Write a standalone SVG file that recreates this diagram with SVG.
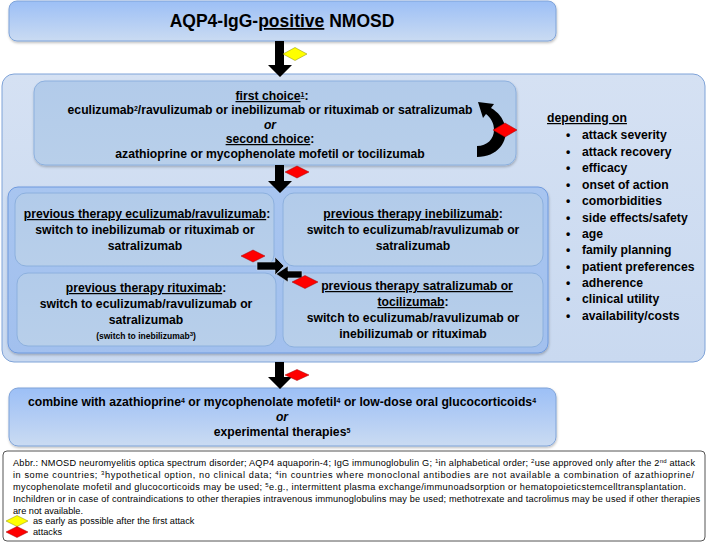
<svg xmlns="http://www.w3.org/2000/svg" width="708" height="544" viewBox="0 0 708 544">
<defs>
<linearGradient id="gTitle" x1="0" y1="0" x2="0" y2="1"><stop offset="0" stop-color="#9cbff6"/><stop offset="1" stop-color="#cadbf2"/></linearGradient>
<linearGradient id="gOuter" x1="0" y1="0" x2="0" y2="1"><stop offset="0" stop-color="#d5e1f3"/><stop offset="1" stop-color="#c9d9f0"/></linearGradient>
<linearGradient id="gInner" x1="0" y1="0" x2="0" y2="1"><stop offset="0" stop-color="#a8c5f0"/><stop offset="1" stop-color="#a2c0ee"/></linearGradient>
<linearGradient id="gBox" x1="0" y1="0" x2="0" y2="1"><stop offset="0" stop-color="#b2cbea"/><stop offset="1" stop-color="#b8cfea"/></linearGradient>
<filter id="sh" x="-5%" y="-5%" width="110%" height="120%"><feDropShadow dx="0.5" dy="1.5" stdDeviation="1.2" flood-color="#000" flood-opacity="0.25"/></filter>
</defs>
<style>
.t{font-family:"Liberation Sans",Arial,sans-serif;font-weight:bold;font-size:12.2px;fill:#000;text-anchor:middle}
.big{font-size:17.5px}
.small{font-size:8.5px}
.s{text-anchor:start}
.u{text-decoration:underline}
.i{font-style:italic}
.box{fill:url(#gBox);stroke:#8cb0de;stroke-width:1}
.arr{fill:#000}
.red{fill:#ff0000;stroke:#a00000;stroke-width:0.5}
.yel{fill:#ffff00;stroke:#8a8a00;stroke-width:0.5}
.fn{font-family:"Liberation Sans",Arial,sans-serif;font-size:9.2px;fill:#000}
</style>

<g id="title">
<rect x="9" y="1" width="547" height="40" rx="8" fill="url(#gTitle)" stroke="#7fa3d8" stroke-width="1" filter="url(#sh)"/>
<text class="t big" x="282" y="27">AQP4-IgG-<tspan class="u">positive</tspan> NMOSD</text>
</g>

<g id="outer">
<rect x="2" y="74" width="703" height="288" rx="12" fill="url(#gOuter)" stroke="#7fa3d8" stroke-width="1"/>
</g>

<g id="first-choice">
<rect x="34" y="81" width="482" height="84" rx="11" class="box" filter="url(#sh)"/>
<text class="t" x="272" y="100"><tspan class="u">first choice<tspan baseline-shift="super" font-size="7">1</tspan></tspan>:</text>
<text class="t" x="270" y="114">eculizumab<tspan baseline-shift="super" font-size="7">2</tspan>/ravulizumab or inebilizumab or rituximab or satralizumab</text>
<text class="t i" x="270" y="129">or</text>
<text class="t" x="270" y="143"><tspan class="u">second choice</tspan>:</text>
<text class="t" x="270" y="158">azathioprine or mycophenolate mofetil or tocilizumab</text>
</g>

<g id="criteria">
<text class="t u" x="587" y="122">depending on</text>
<text class="t s" x="566" y="139">•<tspan x="582">attack severity</tspan></text>
<text class="t s" x="566" y="156">•<tspan x="582">attack recovery</tspan></text>
<text class="t s" x="566" y="172">•<tspan x="582">efficacy</tspan></text>
<text class="t s" x="566" y="189">•<tspan x="582">onset of action</tspan></text>
<text class="t s" x="566" y="205">•<tspan x="582">comorbidities</tspan></text>
<text class="t s" x="566" y="222">•<tspan x="582">side effects/safety</tspan></text>
<text class="t s" x="566" y="238">•<tspan x="582">age</tspan></text>
<text class="t s" x="566" y="254">•<tspan x="582">family planning</tspan></text>
<text class="t s" x="566" y="271">•<tspan x="582">patient preferences</tspan></text>
<text class="t s" x="566" y="287">•<tspan x="582">adherence</tspan></text>
<text class="t s" x="566" y="303">•<tspan x="582">clinical utility</tspan></text>
<text class="t s" x="566" y="320">•<tspan x="582">availability/costs</tspan></text>
</g>

<g id="switch-container">
<rect x="8" y="187" width="540" height="166" rx="10" fill="url(#gInner)" stroke="#6f9ade" stroke-width="1" filter="url(#sh)"/>
</g>

<g id="prev-eculizumab">
<rect x="15" y="193" width="259" height="73" rx="11" class="box"/>
<text class="t" x="147" y="218"><tspan class="u">previous therapy eculizumab/ravulizumab</tspan>:</text>
<text class="t" x="145" y="234">switch to inebilizumab or rituximab or</text>
<text class="t" x="145" y="250">satralizumab</text>
</g>

<g id="prev-inebilizumab">
<rect x="283" y="193" width="260" height="73" rx="11" class="box"/>
<text class="t" x="413" y="218"><tspan class="u">previous therapy inebilizumab</tspan>:</text>
<text class="t" x="413" y="234">switch to eculizumab/ravulizumab or</text>
<text class="t" x="413" y="250">satralizumab</text>
</g>

<g id="prev-rituximab">
<rect x="17" y="273" width="259" height="73" rx="11" class="box"/>
<text class="t" x="146" y="292"><tspan class="u">previous therapy rituximab</tspan>:</text>
<text class="t" x="146" y="308">switch to eculizumab/ravulizumab or</text>
<text class="t" x="146" y="324">satralizumab</text>
<text class="t small" x="146" y="339">(switch to inebilizumab<tspan baseline-shift="super" font-size="6">3</tspan>)</text>
</g>

<g id="prev-satralizumab">
<rect x="283" y="273" width="260" height="74" rx="11" class="box"/>
<text class="t" x="417" y="290"><tspan class="u">previous therapy satralizumab or</tspan></text>
<text class="t" x="413" y="306"><tspan class="u">tocilizumab</tspan>:</text>
<text class="t" x="413" y="322">switch to eculizumab/ravulizumab or</text>
<text class="t" x="413" y="338">inebilizumab or rituximab</text>
</g>

<g id="combine">
<rect x="9" y="388" width="547" height="58" rx="9" fill="url(#gTitle)" stroke="#7fa3d8" stroke-width="1" filter="url(#sh)"/>
<text class="t" x="282" y="406">combine with azathioprine<tspan baseline-shift="super" font-size="7">4</tspan> or mycophenolate mofetil<tspan baseline-shift="super" font-size="7">4</tspan> or low-dose oral glucocorticoids<tspan baseline-shift="super" font-size="7">4</tspan></text>
<text class="t i" x="282" y="421">or</text>
<text class="t" x="282" y="436">experimental therapies<tspan baseline-shift="super" font-size="7">5</tspan></text>
</g>

<g id="connectors">
<polygon class="arr" points="275,41 284,41 284,65 292,65 280,77 268,65 275,65"/>
<polygon class="arr" points="275,165 284,165 284,181 292,181 280,193 268,181 275,181"/>
<polygon class="arr" points="275,362 284,362 284,377 292,377 280,389 268,377 275,377"/>
<path class="arr" d="M477,157 C497,157 509,142 505,126 C503,118 498,112 491,108 L494,104 L478,102 L483,118 L486,114 C491,118 494,123 494,130 C494,139 487,146 477,146 Z"/>
<polygon class="arr" points="257,262 275,262 275,257 284,266 275,275 275,270 257,270" stroke="#cfdcf0" stroke-width="0.6"/>
<polygon class="arr" points="302,271 288,271 288,266 276,274 288,282 288,278 302,278" stroke="#cfdcf0" stroke-width="0.6"/>
</g>

<g id="markers">
<polygon class="yel" points="283,54 295,47.5 307,54 295,60.5"/>
<polygon class="red" points="285,172 297,166 309,172 297,178"/>
<polygon class="red" points="493,130 505,123 517,130 505,137"/>
<polygon class="red" points="241,256 253,250 265,256 253,262"/>
<polygon class="red" points="292,282 305,275.5 318,282 305,288.5"/>
<polygon class="red" points="285,375 297,369.5 309,375 297,380.5"/>
</g>

<g id="footnote">
<rect x="3" y="451" width="702" height="90" rx="4" fill="#fff" stroke="#555" stroke-width="1"/>
<text class="fn" x="13" y="466" textLength="682" lengthAdjust="spacing">Abbr.: NMOSD neuromyelitis optica spectrum disorder; AQP4 aquaporin-4; IgG immunoglobulin G; <tspan baseline-shift="super" font-size="6">1</tspan>in alphabetical order; <tspan baseline-shift="super" font-size="6">2</tspan>use approved only after the 2<tspan baseline-shift="super" font-size="6">nd</tspan> attack</text>
<text class="fn" x="13" y="478" textLength="681" lengthAdjust="spacing">in some countries; <tspan baseline-shift="super" font-size="6">3</tspan>hypothetical option, no clinical data; <tspan baseline-shift="super" font-size="6">4</tspan>in countries where monoclonal antibodies are not available a combination of azathioprine/</text>
<text class="fn" x="13" y="490" textLength="673" lengthAdjust="spacing">mycophenolate mofetil and glucocorticoids may be used; <tspan baseline-shift="super" font-size="6">5</tspan>e.g., intermittent plasma exchange/immunoadsorption or hematopoieticstemcelltransplantation.</text>
<text class="fn" x="13" y="502" textLength="687" lengthAdjust="spacing">Inchildren or in case of contraindications to other therapies intravenous immunoglobulins may be used; methotrexate and tacrolimus may be used if other therapies</text>
<text class="fn" x="13" y="514">are not available.</text>
<polygon class="yel" points="6,521 17,515.5 28,521 17,526.5"/>
<text class="fn" x="33" y="524">as early as possible after the first attack</text>
<polygon class="red" points="6,532 17,526.5 28,532 17,537.5"/>
<text class="fn" x="33" y="535">attacks</text>
</g>
</svg>
